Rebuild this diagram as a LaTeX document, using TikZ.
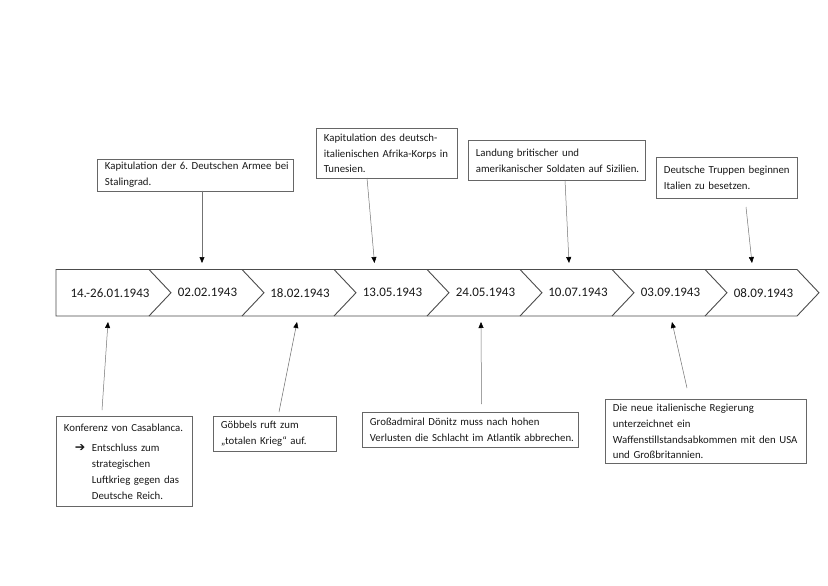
\documentclass[tikz,border=0pt]{standalone}
\usepackage{fontspec}
\setmainfont{Carlito}
\newfontfamily\symfont{DejaVu Sans}
\usetikzlibrary{arrows.meta}
\frenchspacing
\definecolor{boxline}{gray}{0.40}
\definecolor{barline}{gray}{0.30}
\definecolor{conline}{gray}{0.45}
\definecolor{txt}{gray}{0.10}
\tikzset{
  infobox/.style={draw=boxline, line width=0.8pt, align=left, inner xsep=7.5pt, inner ysep=0pt,
    anchor=north west, text=txt, font=\fontsize{10.8}{15.8}\selectfont\frenchspacing},
  datelabel/.style={text=txt, font=\fontsize{13}{15}\selectfont, inner sep=0pt},
  conn/.style={draw=conline, line width=0.5pt, -{Triangle[length=6pt,width=5pt,fill=black,color=black]}},
  bar/.style={draw=barline, line width=0.9pt, line join=miter}
}
\begin{document}
\begin{tikzpicture}[x=1pt,y=-1pt]
\useasboundingbox[fill=white] (0,0) rectangle (828,586);

% chevron bar
\draw[bar] (56,269.5) -- (797,269.5) -- (819,292.75) -- (797,316) -- (56,316) -- cycle;
\foreach \xx in {149,242,334,427,520,612,705}{
  \draw[bar] (\xx,269.5) -- (\xx+22,292.75) -- (\xx,316);
}

% dates
\node[datelabel] (d0) at (110,292.75) {14.-26.01.1943};
\node[datelabel] (d1) at (207.5,292.75) {02.02.1943};
\node[datelabel] (d2) at (300,292.75) {18.02.1943};
\node[datelabel] (d3) at (392.5,292.75) {13.05.1943};
\node[datelabel] (d4) at (485.5,292.75) {24.05.1943};
\node[datelabel] (d5) at (578,292.75) {10.07.1943};
\node[datelabel] (d6) at (670.5,292.75) {03.09.1943};
\node[datelabel] (d7) at (763.5,292.75) {08.09.1943};

% top boxes
\node[infobox, text width=181pt, minimum height=32pt] (b1) at (97,158.5)
  {\mbox{Kapitulation der 6. Deutschen Armee bei}\\\mbox{Stalingrad.}};
\node[infobox, text width=126pt, minimum height=50pt] (b2) at (316,128)
  {\mbox{Kapitulation des deutsch-}\\\mbox{italienischen Afrika-Korps in}\\\mbox{Tunesien.}};
\node[infobox, text width=162pt, minimum height=40pt] (b3) at (468,140)
  {\mbox{Landung britischer und}\\\mbox{amerikanischer Soldaten auf Sizilien.}};
\node[infobox, text width=126pt, minimum height=41pt] (b4) at (656,157)
  {\mbox{Deutsche Truppen beginnen}\\\mbox{Italien zu besetzen.}};

% bottom boxes
\node[infobox, text width=121pt, minimum height=90pt] (b5) at (56,416)
  {\mbox{Konferenz von Casablanca.}\\[5pt]\hspace*{11pt}\makebox[17pt][l]{\symfont\fontsize{12.5}{11}\selectfont ➔}\mbox{Entschluss zum}\\\hspace*{28pt}\mbox{strategischen}\\\hspace*{28pt}\mbox{Luftkrieg gegen das}\\\hspace*{28pt}\mbox{Deutsche Reich.}};
\node[infobox, text width=108pt, minimum height=35pt] (b6) at (213,416)
  {\mbox{Göbbels ruft zum}\\\mbox{„totalen Krieg“ auf.}};
\node[infobox, text width=201pt, minimum height=35pt] (b7) at (362,412)
  {\mbox{Großadmiral Dönitz muss nach hohen}\\\mbox{Verlusten die Schlacht im Atlantik abbrechen.}};
\node[infobox, text width=186pt, minimum height=64pt] (b8) at (605,399)
  {\mbox{Die neue italienische Regierung}\\\mbox{unterzeichnet ein}\\\mbox{Waffenstillstandsabkommen mit den USA}\\\mbox{und Großbritannien.}};

% connector ends
\coordinate (s1) at (202,190.5);   \coordinate (e1) at (202,263);
\coordinate (s2) at (367,178);     \coordinate (e2) at (374.5,263);
\coordinate (s3) at (565,180);     \coordinate (e3) at (569,263);
\coordinate (s4) at (746,207);     \coordinate (e4) at (752,263);
\coordinate (s5) at (102,410);     \coordinate (e5) at (108,322);
\coordinate (s6) at (279,412);     \coordinate (e6) at (297,322);
\coordinate (s7) at (481.5,404);   \coordinate (e7) at (481,322);
\coordinate (s8) at (687,388);     \coordinate (e8) at (672,322);

\foreach \i in {1,...,8}{
  \draw[conn] (s\i) -- (e\i);
}
\end{tikzpicture}
\end{document}
